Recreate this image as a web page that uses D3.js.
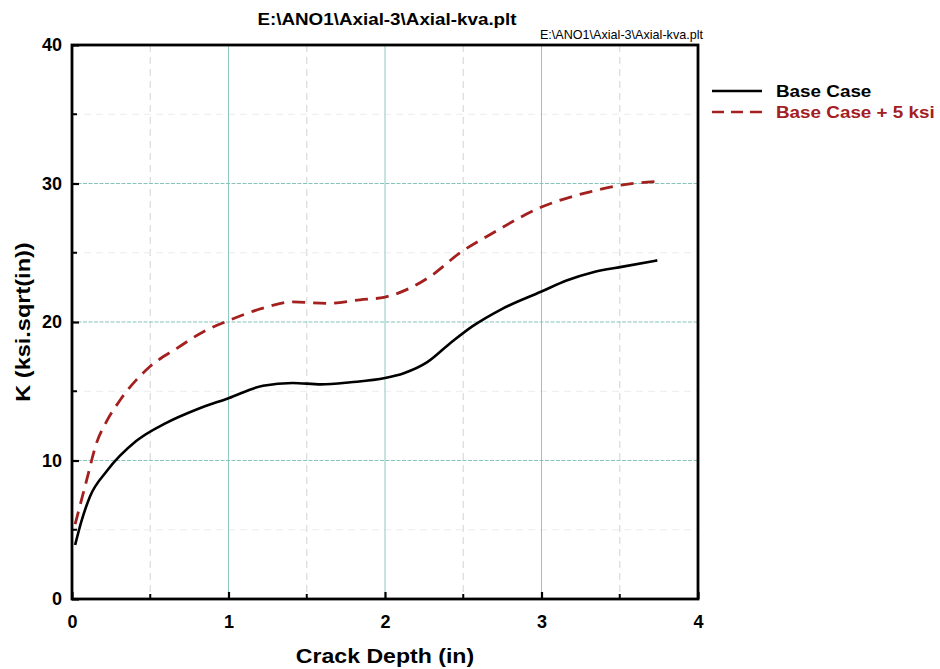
<!DOCTYPE html>
<html>
<head>
<meta charset="utf-8">
<script src="https://cdn.jsdelivr.net/npm/d3@7"></script>
<style>
  body { margin: 0; background: #fff; }
  text { font-family: "Liberation Sans", Arial, sans-serif; }
</style>
</head>
<body>
<div id="chart"></div>
<script>
// data
const baseX = [0.02, 0.06, 0.115, 0.22, 0.41, 0.6, 0.8, 1.0, 1.22, 1.41, 1.59, 1.78, 2.0, 2.12, 2.27, 2.42, 2.56, 2.74, 3.0, 3.16, 3.33, 3.52, 3.74];
const baseY = [3.9, 5.6, 7.4, 9.2, 11.4, 12.7, 13.7, 14.5, 15.4, 15.6, 15.5, 15.65, 15.95, 16.3, 17.1, 18.5, 19.7, 20.9, 22.2, 23.0, 23.6, 24.0, 24.45];
const plusX = [0.02, 0.094, 0.155, 0.22, 0.31, 0.5, 0.67, 0.84, 1.0, 1.22, 1.41, 1.63, 1.84, 2.0, 2.16, 2.29, 2.48, 2.67, 3.0, 3.31, 3.52, 3.74];
const plusY = [5.4, 8.6, 11.2, 12.8, 14.4, 16.8, 18.1, 19.3, 20.1, 21.0, 21.45, 21.35, 21.6, 21.8, 22.45, 23.3, 25.0, 26.3, 28.3, 29.4, 29.9, 30.15];
const xTicks = [0, 1, 2, 3, 4];
const yTicks = [0, 10, 20, 30, 40];
const xMinor = [0.5, 1.5, 2.5, 3.5];
const yMinor = [5, 15, 25, 35];
const seriesNames = ["Base Case", "Base Case + 5 ksi"];

const width = 940, height = 669;
const margin = { top: 45, right: 242, bottom: 70, left: 72 };
const w = width - margin.left - margin.right;
const h = height - margin.top - margin.bottom;
const red = "#a3201f";

const svg = d3.select("#chart").append("svg")
    .attr("width", width)
    .attr("height", height);

// text in the original is a little wider than Arial, so stretch it
function label(parent, x, y, txt, size, opts = {}) {
    return parent.append("text")
        .attr("transform", `translate(${x},${y}) rotate(${opts.rotate || 0}) scale(${opts.sx || 1},1)`)
        .attr("text-anchor", opts.anchor || "middle")
        .attr("font-size", size)
        .attr("font-weight", opts.normal ? "normal" : "bold")
        .attr("fill", opts.color || "#000")
        .text(txt);
}

const g = svg.append("g")
    .attr("transform", `translate(${margin.left},${margin.top})`);

const x = d3.scaleLinear().domain([0, 4]).range([0, w]);
const y = d3.scaleLinear().domain([0, 40]).range([h, 0]);

// grid
g.selectAll(".vminor").data(xMinor).enter().append("line")
    .attr("x1", d => x(d)).attr("x2", d => x(d))
    .attr("y1", 0).attr("y2", h)
    .attr("stroke", "#dadada").attr("stroke-width", 1.2)
    .attr("stroke-dasharray", "7,5");
g.selectAll(".hminor").data(yMinor).enter().append("line")
    .attr("x1", 0).attr("x2", w)
    .attr("y1", d => y(d)).attr("y2", d => y(d))
    .attr("stroke", "#ececec").attr("stroke-width", 1)
    .attr("stroke-dasharray", "7,5");
g.selectAll(".vmajor").data(xTicks.slice(1, -1)).enter().append("line")
    .attr("x1", d => x(d)).attr("x2", d => x(d))
    .attr("y1", 0).attr("y2", h)
    .attr("stroke", "#8fc8c0").attr("stroke-width", 1);
g.selectAll(".hmajor").data(yTicks.slice(1, -1)).enter().append("line")
    .attr("x1", 0).attr("x2", w)
    .attr("y1", d => y(d)).attr("y2", d => y(d))
    .attr("stroke", "#86c4bb").attr("stroke-width", 1.2)
    .attr("stroke-dasharray", "4,1.5");

// lines
const line = d3.line()
    .x(d => x(d[0]))
    .y(d => y(d[1]))
    .curve(d3.curveMonotoneX);

g.append("path")
    .datum(baseX.map((d, i) => [d, baseY[i]]))
    .attr("fill", "none").attr("stroke", "#000")
    .attr("stroke-width", 2.6)
    .attr("d", line);

g.append("path")
    .datum(plusX.map((d, i) => [d, plusY[i]]))
    .attr("fill", "none").attr("stroke", red)
    .attr("stroke-width", 2.8)
    .attr("stroke-dasharray", "13,8")
    .attr("d", line);

// axes with inward ticks
const xAxis = g.append("g")
    .attr("transform", `translate(0,${h})`)
    .call(d3.axisBottom(x).tickValues(xTicks).tickSize(-7).tickPadding(16).tickFormat(d3.format("d")));
const yAxis = g.append("g")
    .call(d3.axisLeft(y).tickValues(yTicks).tickSize(-7).tickPadding(10).tickFormat(d3.format("d")));

g.selectAll(".xmt").data(xMinor).enter().append("line")
    .attr("x1", d => x(d)).attr("x2", d => x(d))
    .attr("y1", h).attr("y2", h - 5)
    .attr("stroke", "#000").attr("stroke-width", 2);
g.selectAll(".ymt").data(yMinor).enter().append("line")
    .attr("x1", 0).attr("x2", 5)
    .attr("y1", d => y(d)).attr("y2", d => y(d))
    .attr("stroke", "#000").attr("stroke-width", 2);

[xAxis, yAxis].forEach(a => {
    a.select(".domain").remove();
    a.selectAll(".tick line").attr("stroke-width", 2.2);
    a.selectAll(".tick text")
        .attr("font-size", 18).attr("font-weight", "bold")
        .attr("font-family", "Liberation Sans, Arial, sans-serif")
        .attr("fill", "#000");
});

// frame
g.append("rect")
    .attr("width", w).attr("height", h)
    .attr("fill", "none").attr("stroke", "#000").attr("stroke-width", 2.8);

// titles
label(svg, 387, 25, "E:\\ANO1\\Axial-3\\Axial-kva.plt", 16.5, { sx: 1.14 });
label(svg, 703, 39, "E:\\ANO1\\Axial-3\\Axial-kva.plt", 12, { anchor: "end", normal: true, sx: 1.05 });
label(svg, margin.left + w / 2, 663, "Crack Depth (in)", 21, { sx: 1.1 });
label(svg, 30, margin.top + h / 2, "K (ksi.sqrt(in))", 21, { rotate: -90, sx: 1.12 });

// legend
const legend = svg.append("g").attr("transform", "translate(712,91)");
const legStyles = [
    { color: "#000", dash: null },
    { color: red, dash: "12,7" }
];
seriesNames.forEach((name, i) => {
    const row = legend.append("g").attr("transform", `translate(0,${i * 21})`);
    row.append("line")
        .attr("x1", 0).attr("x2", 50)
        .attr("stroke", legStyles[i].color)
        .attr("stroke-width", 2.6)
        .attr("stroke-dasharray", legStyles[i].dash);
    label(row, 64, 6, name, 17, { anchor: "start", sx: 1.11, color: legStyles[i].color });
});
</script>
</body>
</html>
